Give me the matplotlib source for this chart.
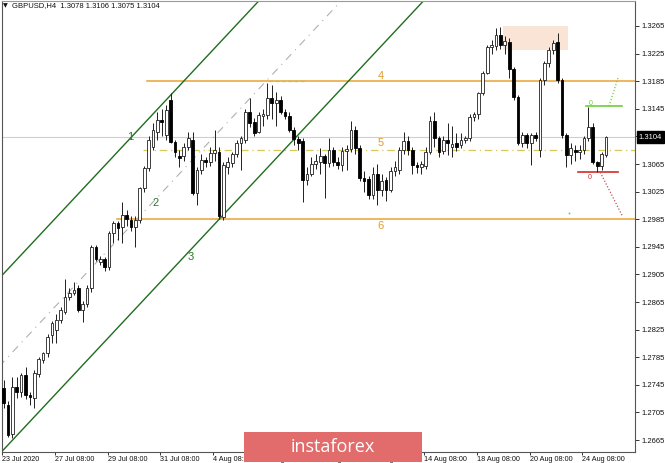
import numpy as np
import matplotlib
matplotlib.use('Agg')
import matplotlib.pyplot as plt
import matplotlib.transforms as mtransforms
from matplotlib.patches import Rectangle

plt.rcParams['font.family'] = ['Liberation Sans', 'DejaVu Sans']

# ── GBPUSD H4 velas ─────────────────────────────────────────
opens = [1.2740, 1.2716, 1.2674, 1.2742, 1.2735, 1.2759, 1.2731, 1.2726, 1.2760, 1.2781,
         1.2791, 1.2817, 1.2824, 1.2839, 1.2851, 1.2873, 1.2878, 1.2885, 1.2853, 1.2862,
         1.2885, 1.2945, 1.2923, 1.2928, 1.2916, 1.2965, 1.2979, 1.2974, 1.2991, 1.2984,
         1.2974, 1.2984, 1.3030, 1.3059, 1.3090, 1.3112, 1.3129, 1.3107, 1.3158, 1.3097,
         1.3076, 1.3076, 1.3090, 1.3100, 1.3023, 1.3056, 1.3071, 1.3068, 1.3081, 1.3083,
         1.2988, 1.3061, 1.3066, 1.3080, 1.3096, 1.3100, 1.3140, 1.3126, 1.3112, 1.3134,
         1.3136, 1.3160, 1.3153, 1.3158, 1.3140, 1.3135, 1.3115, 1.3101, 1.3098, 1.3042,
         1.3050, 1.3065, 1.3068, 1.3076, 1.3066, 1.3085, 1.3068, 1.3064, 1.3084, 1.3087,
         1.3115, 1.3088, 1.3045, 1.3043, 1.3020, 1.3050, 1.3028, 1.3042, 1.3028, 1.3055,
         1.3056, 1.3085, 1.3098, 1.3085, 1.3063, 1.3060, 1.3062, 1.3083, 1.3128, 1.3102,
         1.3084, 1.3100, 1.3090, 1.3095, 1.3092, 1.3100, 1.3102, 1.3133, 1.3137, 1.3168,
         1.3197, 1.3234, 1.3236, 1.3252, 1.3238, 1.3242, 1.3202, 1.3162, 1.3095, 1.3107,
         1.3095, 1.3107, 1.3085, 1.3187, 1.3211, 1.3230, 1.3242, 1.3187, 1.3107, 1.3078,
         1.3085, 1.3082, 1.3085, 1.3102, 1.3118, 1.3068, 1.3062, 1.3078]
highs = [1.2752, 1.2722, 1.2757, 1.2757, 1.2762, 1.2771, 1.2735, 1.2767, 1.2785, 1.2793,
         1.2818, 1.2838, 1.2848, 1.2858, 1.2899, 1.2885, 1.2894, 1.2890, 1.2866, 1.2890,
         1.2948, 1.2948, 1.2932, 1.2930, 1.2968, 1.2982, 1.2982, 1.3010, 1.2998, 1.2990,
         1.2990, 1.3032, 1.3062, 1.3105, 1.3125, 1.3140, 1.3145, 1.3150, 1.3168, 1.3100,
         1.3085, 1.3095, 1.3112, 1.3112, 1.3060, 1.3080, 1.3075, 1.3090, 1.3115, 1.3090,
         1.3068, 1.3075, 1.3083, 1.3100, 1.3106, 1.3145, 1.3160, 1.3132, 1.3140, 1.3145,
         1.3183, 1.3180, 1.3170, 1.3163, 1.3145, 1.3140, 1.3118, 1.3106, 1.3102, 1.3060,
         1.3075, 1.3080, 1.3088, 1.3080, 1.3102, 1.3090, 1.3075, 1.3090, 1.3093, 1.3128,
         1.3120, 1.3092, 1.3055, 1.3048, 1.3060, 1.3065, 1.3050, 1.3046, 1.3060, 1.3070,
         1.3090, 1.3112, 1.3105, 1.3090, 1.3068, 1.3070, 1.3090, 1.3135, 1.3140, 1.3105,
         1.3105, 1.3125, 1.3120, 1.3110, 1.3110, 1.3105, 1.3137, 1.3140, 1.3170, 1.3200,
         1.3237, 1.3245, 1.3262, 1.3264, 1.3250, 1.3248, 1.3205, 1.3165, 1.3112, 1.3110,
         1.3110, 1.3112, 1.3190, 1.3214, 1.3235, 1.3245, 1.3255, 1.3190, 1.3110, 1.3095,
         1.3092, 1.3092, 1.3105, 1.3147, 1.3125, 1.3070, 1.3083, 1.3106]
lows = [1.2712, 1.2669, 1.2668, 1.2726, 1.2728, 1.2725, 1.2716, 1.2712, 1.2756, 1.2776,
        1.2786, 1.2805, 1.2805, 1.2835, 1.2848, 1.2868, 1.2875, 1.2850, 1.2836, 1.2858,
        1.2880, 1.2925, 1.2918, 1.2910, 1.2912, 1.2950, 1.2955, 1.2950, 1.2975, 1.2968,
        1.2945, 1.2980, 1.3025, 1.3055, 1.3085, 1.3100, 1.3105, 1.3100, 1.3095, 1.3075,
        1.3060, 1.3070, 1.3085, 1.3020, 1.3006, 1.3050, 1.3060, 1.3062, 1.3070, 1.2985,
        1.2984, 1.3050, 1.3060, 1.3075, 1.3056, 1.3095, 1.3118, 1.3105, 1.3110, 1.3120,
        1.3130, 1.3130, 1.3120, 1.3138, 1.3130, 1.3112, 1.3092, 1.3085, 1.3010, 1.3035,
        1.3048, 1.3058, 1.3050, 1.3016, 1.3060, 1.3062, 1.3058, 1.3055, 1.3056, 1.3083,
        1.3080, 1.3040, 1.3025, 1.3015, 1.3014, 1.3005, 1.3018, 1.3012, 1.3025, 1.3048,
        1.3050, 1.3080, 1.3078, 1.3050, 1.3052, 1.3050, 1.3058, 1.3080, 1.3090, 1.3075,
        1.3080, 1.3078, 1.3075, 1.3084, 1.3088, 1.3095, 1.3098, 1.3128, 1.3130, 1.3165,
        1.3195, 1.3225, 1.3230, 1.3232, 1.3225, 1.3190, 1.3158, 1.3092, 1.3090, 1.3088,
        1.3063, 1.3098, 1.3075, 1.3180, 1.3205, 1.3225, 1.3182, 1.3103, 1.3060, 1.3065,
        1.3070, 1.3072, 1.3080, 1.3098, 1.3065, 1.3053, 1.3057, 1.3075]
closes = [1.2718, 1.2672, 1.2742, 1.2735, 1.2759, 1.2730, 1.2727, 1.2762, 1.2783, 1.2791,
          1.2815, 1.2834, 1.2839, 1.2853, 1.2873, 1.2878, 1.2882, 1.2853, 1.2862, 1.2885,
          1.2945, 1.2928, 1.2928, 1.2916, 1.2965, 1.2979, 1.2972, 1.2991, 1.2986, 1.2974,
          1.2984, 1.3030, 1.3059, 1.3100, 1.3114, 1.3129, 1.3126, 1.3143, 1.3097, 1.3083,
          1.3073, 1.3090, 1.3102, 1.3023, 1.3056, 1.3071, 1.3068, 1.3081, 1.3085, 1.2990,
          1.3063, 1.3068, 1.3080, 1.3096, 1.3102, 1.3140, 1.3124, 1.3110, 1.3136, 1.3138,
          1.3160, 1.3153, 1.3158, 1.3140, 1.3135, 1.3115, 1.3101, 1.3096, 1.3042, 1.3050,
          1.3065, 1.3070, 1.3076, 1.3066, 1.3085, 1.3068, 1.3064, 1.3084, 1.3087, 1.3115,
          1.3088, 1.3045, 1.3040, 1.3020, 1.3050, 1.3028, 1.3040, 1.3028, 1.3055, 1.3060,
          1.3085, 1.3099, 1.3085, 1.3063, 1.3060, 1.3065, 1.3083, 1.3128, 1.3102, 1.3083,
          1.3100, 1.3095, 1.3094, 1.3090, 1.3100, 1.3102, 1.3133, 1.3137, 1.3168, 1.3197,
          1.3234, 1.3238, 1.3252, 1.3238, 1.3243, 1.3202, 1.3162, 1.3095, 1.3107, 1.3095,
          1.3107, 1.3103, 1.3187, 1.3211, 1.3230, 1.3240, 1.3187, 1.3107, 1.3078, 1.3088,
          1.3082, 1.3086, 1.3102, 1.3118, 1.3068, 1.3062, 1.3080, 1.3104]

date_labels = ['23 Jul 2020', '27 Jul 08:00', '29 Jul 08:00', '31 Jul 08:00',
               '4 Aug 08:00', '6 Aug 08:00', '10 Aug 08:00', '12 Aug 08:00',
               '14 Aug 08:00', '18 Aug 08:00', '20 Aug 08:00', '24 Aug 08:00']
price_ticks = [1.2665, 1.2705, 1.2745, 1.2785, 1.2825, 1.2865, 1.2905, 1.2945,
               1.2985, 1.3025, 1.3065, 1.3105, 1.3145, 1.3185, 1.3225, 1.3265]
price_tick_labels = ['1.2665', '1.2705', '1.2745', '1.2785', '1.2825', '1.2865', '1.2905',
                     '1.2945', '1.2985', '1.3025', '1.3065', '', '1.3145', '1.3185',
                     '1.3225', '1.3265']
header = 'GBPUSD,H4  1.3078 1.3106 1.3075 1.3104'
last_price = 1.3104

# niveles horizontales 4, 5, 6 y su barra de inicio
level_prices = [1.3186, 1.3085, 1.2985]
level_starts = [32.7, 31.8, 25.7]
# canal ascendente (líneas 1, 2, 3): precio en la barra 0 y pendiente por barra
chan_start = [1.2906, 1.27785, 1.2651]
chan_slope = 0.000681
chan_mid_end = 76
# objetivos
target_up, target_up_proj = 1.3149, 1.3191
target_dn, target_dn_proj = 1.3053, 1.2990
zone_bars = [113.6, 128.4]
zone_prices = [1.3230, 1.3265]

# ══════════════════════════════════════════════════════════
W, H = 665, 463
fig = plt.figure(figsize=(W / 100, H / 100), dpi=100)
ax = fig.add_axes([2 / W, 11 / H, 633 / W, 451 / H])
ax.set_xlim(-0.23, 143.6)
ax.set_ylim(1.26477, 1.33012)

o = np.array(opens); h = np.array(highs); l = np.array(lows); c = np.array(closes)
idx = np.arange(len(o))
up = c >= o
bot = np.minimum(o, c)
hgt = np.maximum(np.abs(c - o), 0.00008)

ax.vlines(idx, l, h, color='#202020', lw=0.7, zorder=3)
ax.bar(idx[up], hgt[up], bottom=bot[up], width=0.62, facecolor='white',
       edgecolor='#202020', lw=0.6, zorder=4)
ax.bar(idx[~up], hgt[~up], bottom=bot[~up], width=0.62, facecolor='black',
       edgecolor='black', lw=0.6, zorder=4)

# línea de último precio
ax.axhline(last_price, color='#cfcfcf', lw=0.8, zorder=1)

# zona de resistencia
ax.add_patch(Rectangle((zone_bars[0], zone_prices[0]), zone_bars[1] - zone_bars[0],
                       zone_prices[1] - zone_prices[0], facecolor='#f9e4d6',
                       edgecolor='none', zorder=0.5))

# niveles 4, 5, 6
x_end = 150
ax.plot([level_starts[0], x_end], [level_prices[0]] * 2, color='#e8a332', lw=1.1, zorder=2)
ax.plot([level_starts[1], x_end], [level_prices[1]] * 2, color='#d8c75a', lw=0.9,
        ls=(0, (6, 3, 1, 3)), zorder=2)
ax.plot([level_starts[2], x_end], [level_prices[2]] * 2, color='#e8a332', lw=1.1, zorder=2)
ax.plot([60.4, 68.4], [level_prices[0]] * 2, color='#8fd36a', lw=0.9,
        ls=(0, (3, 2)), zorder=2)

# canal
xs = np.array([-2, x_end])
ax.plot(xs, chan_start[0] + chan_slope * xs, color='#1f6e1f', lw=1.0, zorder=2)
ax.plot(xs, chan_start[2] + chan_slope * xs, color='#1f6e1f', lw=1.0, zorder=2)
xm = np.array([-2, chan_mid_end])
ax.plot(xm, chan_start[1] + chan_slope * xm, color='#b0b0b0', lw=0.8,
        ls=(0, (7, 5, 1, 5)), zorder=2)

# objetivos
ax.plot([132.5, 140.7], [target_up] * 2, color='#6fce3c', lw=1.2, zorder=2)
ax.plot([137.7, 139.8], [target_up, target_up_proj], color='#6fce3c', lw=0.9,
        ls=(0, (1, 1.5)), zorder=2)
ax.plot([130.7, 139.8], [target_dn] * 2, color='#d42a2a', lw=1.2, zorder=2)
ax.plot([135.7, 140.7], [target_dn, target_dn_proj], color='#c85050', lw=0.9,
        ls=(0, (1, 1.5)), zorder=2)
ax.plot([128.6], [1.2994], marker='s', ms=1.2, color='#6fce3c', mec='none')

# etiquetas de las líneas
for txt, xi, yi, col in [('1', 28.9, 1.3104, '#2a7a2a'), ('2', 34.5, 1.3009, '#2a7a2a'),
                         ('3', 42.5, 1.2930, '#2a7a2a'), ('4', 85.7, 1.3193, '#e39a2c'),
                         ('5', 85.7, 1.3095, '#e39a2c'), ('6', 85.7, 1.2975, '#e39a2c')]:
    ax.text(xi, yi, txt, color=col, fontsize=8, ha='center', va='center', zorder=5)
ax.text(133.6, 1.3153, '0', color='#6fce3c', fontsize=5, ha='center', va='center')
ax.text(133.4, 1.3045, '0', color='#d42a2a', fontsize=5, ha='center', va='center')

# ejes
for s in ax.spines.values():
    s.set_color('#555555'); s.set_linewidth(0.8)
ax.spines['top'].set_color('#9a9a9a')
ax.yaxis.tick_right()
ax.set_yticks(price_ticks)
ax.set_yticklabels(price_tick_labels)
ax.set_xticks(np.arange(len(date_labels)) * 12 - 0.35)
ax.set_xticklabels(date_labels)
for lab in ax.get_xticklabels():
    lab.set_horizontalalignment('left')
ax.tick_params(axis='y', direction='out', length=3, width=0.7, color='#333333',
               labelsize=5.5, labelcolor='#111111', pad=1.5)
ax.tick_params(axis='x', direction='out', length=2.5, width=0.7, color='#333333',
               labelsize=5.2, labelcolor='#111111', pad=0.3)

# precio actual en el eje
tr = mtransforms.blended_transform_factory(ax.transAxes, ax.transData)
ax.text(1.006, last_price, '1.3104', transform=tr, color='white', fontsize=5.5,
        ha='left', va='center', bbox=dict(boxstyle='square,pad=0.3', fc='black', ec='black'),
        clip_on=False)

# cabecera
fig.text(3 / W, 1 - 6 / H, '\u25bc', fontsize=4.5, va='center', ha='left', color='#111111',
         family=['DejaVu Sans'])
fig.text(12 / W, 1 - 6 / H, header, fontsize=5.5, va='center', ha='left', color='#111111')

# marca de agua
fig.add_artist(Rectangle((244 / W, 1 / H), 178 / W, 30 / H, transform=fig.transFigure,
                         facecolor='#e26b6b', edgecolor='none', zorder=10))
fig.text(333 / W, 16 / H, 'instaforex', color='white', fontsize=13, ha='center',
         va='center', zorder=11, family=['Open Sans', 'DejaVu Sans'])

fig.savefig('out.png', dpi=100, facecolor='white')
